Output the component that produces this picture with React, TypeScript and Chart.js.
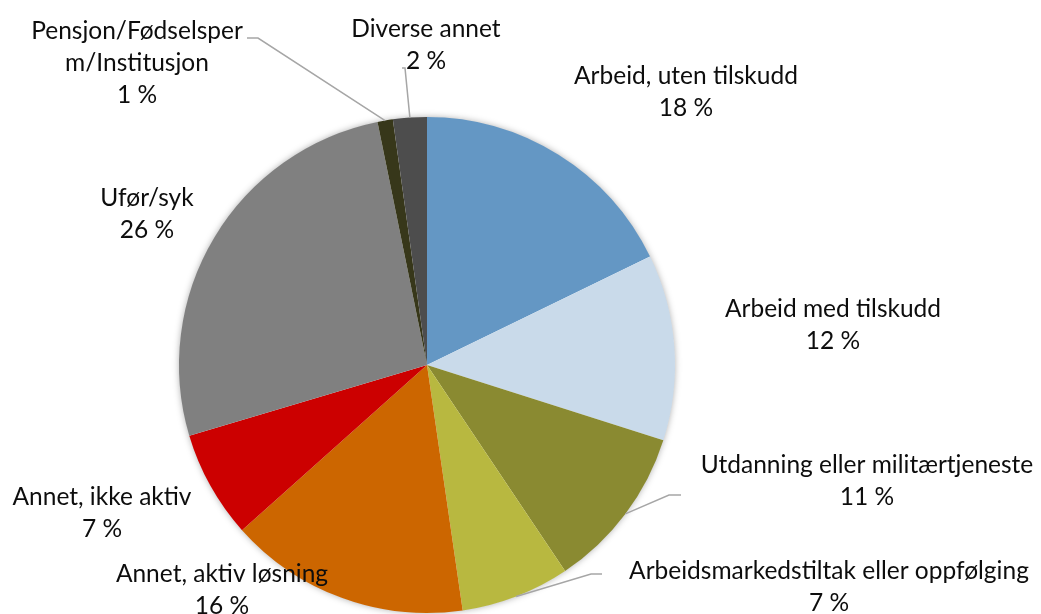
import React, { useEffect, useRef } from "react";
import { Chart, registerables } from "chart.js";

Chart.register(...registerables);

// ---- data ----
const categories: string[][] = [
  ["Arbeid, uten tilskudd"],
  ["Arbeid med tilskudd"],
  ["Utdanning eller militærtjeneste"],
  ["Arbeidsmarkedstiltak eller oppfølging"],
  ["Annet, aktiv løsning"],
  ["Annet, ikke aktiv"],
  ["Ufør/syk"],
  ["Pensjon/Fødselsper", "m/Institusjon"],
  ["Diverse annet"],
];
const shares: number[] = [17.8, 12.1, 10.7, 7.1, 15.7, 7.0, 26.4, 1.0, 2.2];

// ---- styles ----
const sliceColors = [
  "#6497C4",
  "#C9DAEA",
  "#8A8A31",
  "#B8B840",
  "#CC6600",
  "#CC0000",
  "#808080",
  "#37371A",
  "#4D4D4D",
];

// label placement relative to pie center (px): text center x, first line center y
const labelOffsets: [number, number][] = [
  [259, -289],
  [406, -56],
  [440, 100],
  [402, 206],
  [-205, 209],
  [-325, 132],
  [-280, -167],
  [-290, -334],
  [-1, -336],
];
// leader lines: [startDx, startDy, elbowDx, elbowDy] relative to center, or null
const leaders: (number[] | null)[] = [
  null,
  null,
  [254, 130, 242, 130],
  [175, 209, 164, 209],
  null,
  null,
  null,
  [-180, -327, -169, -327],
  [-25, -297, -22, -297],
];

const FONT = '24.5px Lato, "Liberation Sans", sans-serif';
const LINE_H = 32;

const shadowPlugin = {
  id: "pieShadow",
  beforeDatasetsDraw(chart: any) {
    const meta = chart.getDatasetMeta(0);
    const a = meta.data[0];
    if (!a) return;
    const { x, y, outerRadius } = a.getProps(["x", "y", "outerRadius"], true);
    const ctx = chart.ctx;
    ctx.save();
    ctx.shadowColor = "rgba(0,0,0,0.35)";
    ctx.shadowBlur = 7;
    ctx.shadowOffsetX = 0;
    ctx.shadowOffsetY = 0;
    ctx.fillStyle = "#ffffff";
    ctx.beginPath();
    ctx.arc(x, y, outerRadius - 0.5, 0, Math.PI * 2);
    ctx.fill();
    ctx.restore();
  },
};

const labelPlugin = {
  id: "pieLabels",
  afterDatasetsDraw(chart: any) {
    const meta = chart.getDatasetMeta(0);
    const ctx = chart.ctx;
    ctx.save();
    meta.data.forEach((arc: any, i: number) => {
      const { x, y, startAngle, endAngle, outerRadius } = arc.getProps(
        ["x", "y", "startAngle", "endAngle", "outerRadius"],
        true
      );
      const ld = leaders[i];
      if (ld) {
        const mid = (startAngle + endAngle) / 2;
        const ex = x + Math.cos(mid) * outerRadius;
        const ey = y + Math.sin(mid) * outerRadius;
        ctx.strokeStyle = "#A6A6A6";
        ctx.lineWidth = 1.5;
        ctx.beginPath();
        ctx.moveTo(x + ld[0], y + ld[1]);
        ctx.lineTo(x + ld[2], y + ld[3]);
        ctx.lineTo(ex, ey);
        ctx.stroke();
      }
      const lines = [...categories[i], `${Math.round(shares[i])} %`];
      const [dx, dy] = labelOffsets[i];
      ctx.fillStyle = "#0D0D0D";
      ctx.font = FONT;
      ctx.textAlign = "center";
      ctx.textBaseline = "middle";
      lines.forEach((t, k) => {
        ctx.fillText(t, x + dx, y + dy + k * LINE_H);
      });
    });
    ctx.restore();
  },
};

export default function App() {
  const ref = useRef<HTMLCanvasElement | null>(null);
  useEffect(() => {
    if (!ref.current) return;
    const chart = new Chart(ref.current, {
      type: "pie",
      data: {
        labels: categories.map((c) => c.join(" ")),
        datasets: [
          {
            data: shares,
            backgroundColor: sliceColors,
            borderWidth: 0,
          },
        ],
      },
      options: {
        animation: false,
        responsive: false,
        maintainAspectRatio: false,
        layout: { padding: { left: 179, right: 366, top: 117, bottom: 1 } },
        plugins: {
          legend: { display: false },
          tooltip: { enabled: false },
        },
      },
      plugins: [shadowPlugin, labelPlugin],
    });
    return () => chart.destroy();
  }, []);
  return (
    <div style={{ position: "absolute", left: 0, top: 0, width: 1041, height: 614, background: "#fff" }}>
      <canvas ref={ref} width={1041} height={614} style={{ display: "block" }} />
    </div>
  );
}
